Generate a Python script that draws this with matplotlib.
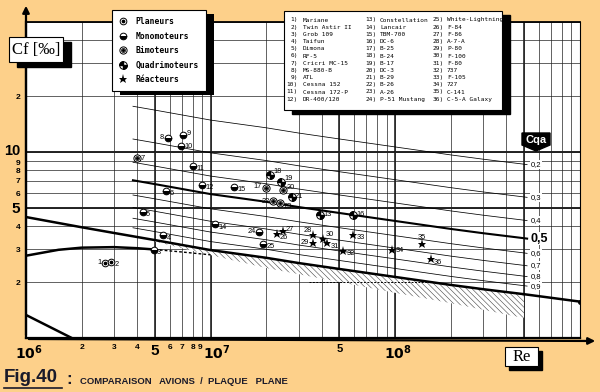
import numpy as np
import matplotlib
matplotlib.use('Agg')
import matplotlib.pyplot as plt
import matplotlib.transforms as mtransforms
from matplotlib.patches import Rectangle, Polygon, FancyArrowPatch
from matplotlib.lines import Line2D
from matplotlib.path import Path
from matplotlib.ticker import LogLocator, NullFormatter

# ---- data ----
ac_num = list(range(1, 37))
ac_names = ['Mariane', 'Twin Astir II', 'Grob 109', 'Taifun', 'Dimona', 'RF-5',
            'Cricri MC-15', 'MS-880-B', 'ATL', 'Cessna 152', 'Cessna 172-P', 'DR-400/120',
            'Constellation', 'Lancair', 'TBM-700', 'DC-6', 'B-25', 'B-24',
            'B-17', 'DC-3', 'B-29', 'B-26', 'A-26', 'P-51 Mustang',
            'White-Lightning', 'F-84', 'F-86', 'A-7-A', 'P-80', 'F-100',
            'F-80', '737', 'F-105', '727', 'C-141', 'C-5-A Galaxy']
ac_re = [2.68e6, 2.88e6, 4.92e6, 5.55e6, 4.29e6, 5.74e6, 3.98e6, 5.86e6, 7.07e6, 6.92e6,
         8.01e6, 8.96e6, 3.92e7, 1.06e7, 1.34e7, 5.9e7, 1.99e7, 2.09e7, 2.40e7, 2.48e7,
         2.75e7, 2.19e7, 2.38e7, 1.84e7, 1.93e7, 2.28e7, 2.46e7, 3.61e7, 3.58e7, 4.06e7,
         4.30e7, 5.25e7, 5.94e7, 9.67e7, 1.40e8, 1.56e8]
ac_cf = [2.52, 2.57, 2.99, 3.56, 4.76, 6.17, 9.25, 11.9, 12.3, 10.8,
         8.44, 6.67, 4.59, 4.09, 6.52, 4.59, 6.38, 7.52, 6.92, 6.27,
         5.75, 5.45, 5.30, 3.72, 3.20, 3.61, 3.78, 3.58, 3.25, 3.41,
         3.23, 2.94, 3.58, 2.97, 3.19, 2.65]
ac_cat = ['P', 'P', 'M', 'M', 'M', 'M', 'B', 'M', 'M', 'M',
          'M', 'M', 'Q', 'M', 'M', 'Q', 'B', 'Q', 'Q', 'B',
          'Q', 'B', 'B', 'M', 'M', 'R', 'R', 'R', 'R', 'R',
          'R', 'R', 'R', 'R', 'R', 'R']

# turbulent flat plate
turb_re = [1e6, 2e6, 3e6, 5e6, 1e7, 2e7, 3e7, 5e7, 1e8, 2e8, 3e8, 5e8, 1e9]
turb_cf = [4.47, 3.94, 3.67, 3.36, 2.97, 2.70, 2.53, 2.35, 2.13, 1.93, 1.83, 1.72, 1.57]
# transition curve
trans_re = [1e6, 1.5e6, 2e6, 3e6, 4e6, 5e6]
trans_cf = [2.77, 2.98, 3.06, 3.08, 3.04, 2.99]
trans_dash_re = [5e6, 7e6, 1e7]
trans_dash_cf = [2.99, 2.90, 2.80]
# laminar
lam_re = [1e6, 1.77e6]
lam_cf = [1.33, 1.0]
# hatched zone lower edge
hatch_re = [5e6, 1e7, 2e7, 5e7, 1e8, 2e8, 5e8]
hatch_cf = [3.30, 2.79, 2.38, 2.00, 1.75, 1.54, 1.28]
dash_re = [3.4e7, 1.5e8]
dash_cf = [2.0, 2.0]
# Cqa lines
cqa_values = [0.2, 0.3, 0.4, 0.5, 0.6, 0.7, 0.8, 0.9]
cqa_labels = ['0,2', '0,3', '0,4', '0,5', '0,6', '0,7', '0,8', '0,9']
cqa_start, cqa_end = 3.8e6, 5.2e8

xtick_vals = [1e6, 2e6, 3e6, 4e6, 5e6, 6e6, 7e6, 8e6, 9e6, 1e7, 5e7, 1e8]
xtick_labels = [r'$\mathbf{10^6}$', '2', '3', '4', '5', '6', '7', '8', '9',
                r'$\mathbf{10^7}$', '5', r'$\mathbf{10^8}$']
ytick_vals = [2, 3, 4, 5, 6, 7, 8, 9, 10, 20]
ytick_labels = ['2', '3', '4', '5', '6', '7', '8', '9', '10', '2']

BG = '#fdd08a'
W, H = 600, 392

fig = plt.figure(figsize=(W / 100, H / 100), dpi=100, facecolor=BG)
pix = mtransforms.Affine2D().scale(1, -1).translate(0, H)

ax = fig.add_axes([26 / W, 1 - 338 / H, 553.5 / W, 316 / H])
ax.set_xscale('log')
ax.set_yscale('log')
ax.set_xlim(1e6, 1e9)
ax.set_ylim(1, 50)
ax.set_facecolor('white')

# grid
ax.xaxis.set_minor_locator(LogLocator(base=10, subs=np.arange(1, 10), numticks=40))
ax.yaxis.set_minor_locator(LogLocator(base=10, subs=np.arange(1, 10), numticks=40))
ax.xaxis.set_minor_formatter(NullFormatter())
ax.yaxis.set_minor_formatter(NullFormatter())
ax.grid(True, which='both', color='#222222', lw=0.5, zorder=0)
for v in [5e6, 1e7, 5e7, 1e8, 5e8]:
    ax.axvline(v, color='#111111', lw=1.1, zorder=0.5)
for v in [5, 10]:
    ax.axhline(v, color='#111111', lw=1.3, zorder=0.5)
ax.set_axisbelow(True)


def nudge(lab, dx, dy):
    lab.set_transform(lab.get_transform() +
                      mtransforms.ScaledTranslation(dx / 100, dy / 100, fig.dpi_scale_trans))


ax.set_xticks(xtick_vals)
ax.set_xticklabels(xtick_labels)
ax.set_yticks(ytick_vals)
ax.set_yticklabels(ytick_labels)
ax.tick_params(which='both', length=0)
ax.tick_params(axis='x', pad=4)
ax.tick_params(axis='y', pad=4)
for lab in ax.get_xticklabels():
    lab.set_fontfamily('Liberation Sans')
    lab.set_fontweight('bold')
    lab.set_fontsize(6)
xl = ax.get_xticklabels()
for i in (0, 9, 11):
    xl[i].set_fontsize(10)
    nudge(xl[i], 3, 0)
nudge(xl[9], 3, 0)
nudge(xl[8], -1.5, 0)
xl[4].set_fontsize(11)
xl[10].set_fontsize(8)
for lab in ax.get_yticklabels():
    lab.set_fontfamily('Liberation Sans')
    lab.set_fontweight('bold')
    lab.set_fontsize(6)
yl = ax.get_yticklabels()
yl[3].set_fontsize(11)
yl[8].set_fontsize(10.5)
nudge(yl[8], 0, 3)
nudge(yl[7], 0, -1.5)

for s in ['left', 'bottom']:
    ax.spines[s].set_linewidth(1.6)
ax.spines['top'].set_linewidth(1.3)
ax.spines['right'].set_linewidth(0.8)

# Cqa lines
lr = np.log10(turb_re)
lc = np.log10(turb_cf)
cqa_re = np.array([cqa_start] + [r for r in turb_re if cqa_start < r < cqa_end] + [cqa_end])
turb_at = 10 ** np.interp(np.log10(cqa_re), lr, lc)
for c, t in zip(cqa_values, cqa_labels):
    bold = (t == '0,5')
    ax.plot(cqa_re, turb_at / c, color='k', lw=1.5 if bold else 0.55, zorder=1)
    ax.text(5.45e8, turb_at[-1] / c, t, fontsize=9 if bold else 5.5,
            fontweight='bold' if bold else 'normal', family='Liberation Sans',
            ha='left', va='center', zorder=2,
            bbox=dict(fc='white', ec='none', pad=0.6))

# hatched zone
hb = np.array(hatch_re)
ht = 10 ** np.interp(np.log10(hb), lr, lc)
plt.rcParams['hatch.linewidth'] = 0.4
ax.fill_between(hb, hatch_cf, ht, facecolor='white', edgecolor='#444444',
                hatch='\\\\\\\\\\\\', lw=0, zorder=1.2)
ax.plot(dash_re, dash_cf, color='k', lw=0.7, ls=(0, (2, 1.5)), zorder=1.3)

# flat plate curves
ax.plot(turb_re, turb_cf, color='k', lw=1.8, zorder=2)
ax.plot(turb_re[-1], turb_cf[-1], 'o', color='k', ms=2.5, zorder=2)
ax.plot(trans_re, trans_cf, color='k', lw=1.8, zorder=2)
ax.plot(trans_dash_re, trans_dash_cf, color='k', lw=1.0, ls=(0, (2, 1.5)), zorder=2)
ax.plot(lam_re, lam_cf, color='k', lw=1.8, zorder=2)

# markers
quad_path = Path.make_compound_path(Path.wedge(90, 180), Path.wedge(270, 360))
ms = 4.8


def draw_marker(a, x, y, cat, **kw):
    kw.setdefault('ls', 'none')
    if cat == 'P':
        h1, = a.plot(x, y, 'o', ms=ms, mfc='white', mec='k', mew=0.7, **kw)
        h2, = a.plot(x, y, 'o', ms=1.7, color='k', **kw)
        return (h1, h2)
    if cat == 'M':
        h1, = a.plot(x, y, 'o', ms=ms, fillstyle='bottom', mfc='k',
                     markerfacecoloralt='white', mec='k', mew=0.7, **kw)
        return (h1,)
    if cat == 'B':
        h1, = a.plot(x, y, 'o', ms=ms + 0.4, mfc='white', mec='k', mew=0.7, **kw)
        h2, = a.plot(x, y, 'o', ms=2.9, mfc='#999999', mec='k', mew=0.5, **kw)
        h3, = a.plot(x, y, 'o', ms=1.1, color='k', **kw)
        return (h1, h2, h3)
    if cat == 'Q':
        h1, = a.plot(x, y, 'o', ms=ms + 0.6, mfc='white', mec='k', mew=0.7, **kw)
        h2, = a.plot(x, y, marker=quad_path, ms=ms + 0.6, color='k', **kw)
        return (h1, h2)
    h1, = a.plot(x, y, '*', ms=6.5, color='k', mew=0, **kw)
    return (h1,)


for cat in ['P', 'M', 'B', 'Q', 'R']:
    xs = [r for r, c in zip(ac_re, ac_cat) if c == cat]
    ys = [v for v, c in zip(ac_cf, ac_cat) if c == cat]
    draw_marker(ax, xs, ys, cat, zorder=4)

label_off = {1: (-2.5, 0.5, 'right'), 8: (-2.5, 0, 'right'), 9: (2.5, 1.5, 'left'),
             7: (2.5, 0, 'left'), 10: (2.5, -0.5, 'left'),
             17: (-2.5, 1.5, 'right'), 18: (2.5, 2.5, 'left'), 19: (2.5, 2.5, 'left'),
             20: (2.5, 1.5, 'left'), 22: (-2.5, 0, 'right'), 24: (-2.5, 0, 'right'),
             27: (2.5, 1, 'left'), 28: (-1, 3.5, 'right'), 29: (-2.5, 0, 'right'),
             30: (2, 3, 'left'), 35: (0, 5, 'center'), 13: (2.5, 0, 'left'),
             16: (2.5, 0.5, 'left'), 34: (2.5, 0, 'left'), 21: (2.5, 0, 'left')}
for n, r, c in zip(ac_num, ac_re, ac_cf):
    dx, dy, ha = label_off.get(n, (2.5, -2, 'left'))
    ax.annotate(str(n), (r, c), xytext=(dx, dy), textcoords='offset points',
                fontsize=5.3, family='Liberation Sans', ha=ha, va='center', zorder=5)


# ---- decorations ----
def box(x, y, w, h, sx, sy, z=4):
    fig.add_artist(Rectangle((x + sx, y + sy), w, h, transform=pix, fc='k', ec='k', zorder=z))
    fig.add_artist(Rectangle((x, y), w, h, transform=pix, fc='white', ec='k', lw=0.8, zorder=z + 0.05))


# axis arrows
fig.add_artist(FancyArrowPatch((26, 338), (26, 3), transform=pix, arrowstyle='-|>',
                               mutation_scale=10, lw=1.6, color='k', zorder=3))
fig.add_artist(FancyArrowPatch((26, 339), (598, 341), transform=pix, arrowstyle='-|>',
                               mutation_scale=10, lw=1.6, color='k', zorder=3))

# Cf label
box(9, 37, 54, 25, 8, 5)
fig.text(36, 49.5, 'Cf [‰]', transform=pix, ha='center', va='center', fontsize=12,
         family=['Liberation Serif', 'DejaVu Serif'], zorder=5)

# Re label
box(505, 347, 33, 19, 4, 4)
fig.text(521.5, 357, 'Re', transform=pix, ha='center', va='center', fontsize=12,
         family=['Liberation Serif', 'DejaVu Serif'], zorder=5)

# Cqa badge
fig.add_artist(Polygon([(522, 133), (550, 133), (550, 145), (536, 151), (522, 145)],
                       closed=True, transform=pix, fc='k', ec='k', zorder=5))
fig.text(536, 140, 'Cqa', transform=pix, ha='center', va='center', fontsize=8,
         fontweight='bold', color='white', family='Liberation Sans', zorder=6)

# category legend
cat_names = ['Planeurs', 'Monomoteurs', 'Bimoteurs', 'Quadrimoteurs', 'Réacteurs']
handles = []
tmp = fig.add_axes([0, 0, 0.01, 0.01])
tmp.set_visible(False)
for cat in ['P', 'M', 'B', 'Q', 'R']:
    handles.append(draw_marker(tmp, [], [], cat))
leg = fig.legend(handles, cat_names, loc='upper left', bbox_to_anchor=(112, H - 10),
                 bbox_transform=mtransforms.IdentityTransform(), borderaxespad=0,
                 prop={'family': 'DejaVu Sans Mono', 'size': 5.8, 'weight': 'bold'},
                 frameon=True, fancybox=False, edgecolor='k', framealpha=1,
                 borderpad=0.9, labelspacing=0.68, handlelength=1.0, handletextpad=1.0)
leg.get_frame().set_linewidth(0.8)
leg.set_zorder(5)
fig.canvas.draw()
bb = leg.get_window_extent()
fig.add_artist(Rectangle((bb.x0 + 8, bb.y0 - 4), bb.width, bb.height,
                         transform=mtransforms.IdentityTransform(), fc='k', zorder=4.9))

# aircraft key
box(284, 11, 218, 99, 8, 4)
cols = [(298, 303), (377, 380), (444, 447)]
for i, (n, name) in enumerate(zip(ac_num, ac_names)):
    col, row = divmod(i, 12)
    nx, tx = cols[col]
    y = 20 + row * 7.2
    fig.text(nx, y, '%d)' % n, transform=pix, ha='right', va='center', fontsize=4.4,
             family='DejaVu Sans Mono', zorder=6)
    fig.text(tx, y, name, transform=pix, ha='left', va='center', fontsize=4.4,
             family='DejaVu Sans Mono', zorder=6)

# caption
fig.text(4, 378, 'Fig.40', transform=pix, ha='left', va='center', fontsize=13.5,
         fontweight='bold', family='Liberation Sans', color='#1a1a2a')
fig.add_artist(Line2D([4, 62], [388, 388], transform=pix, color='#1a1a2a', lw=1.2))
fig.text(66, 379, ':', transform=pix, ha='left', va='center', fontsize=12,
         fontweight='bold', family='Liberation Sans', color='#1a1a2a')
fig.text(80, 382, 'COMPARAISON   AVIONS  /  PLAQUE   PLANE', transform=pix, ha='left',
         va='center', fontsize=6.8, fontweight='bold', family='Liberation Sans',
         color='#1a1a2a')

fig.savefig('out.png', dpi=100, facecolor=BG)
